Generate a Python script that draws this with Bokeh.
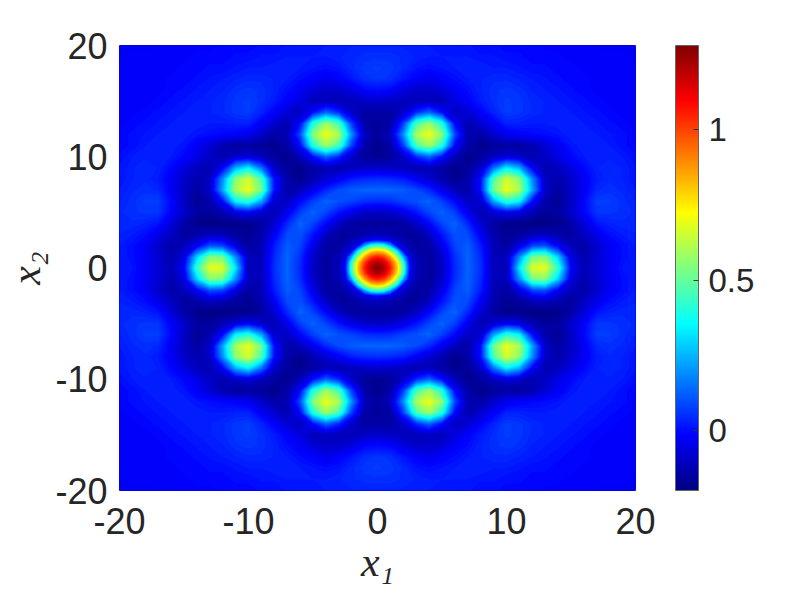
import numpy as np
from bokeh.embed import file_html
from bokeh.models import ColorBar, FixedTicker, LinearColorMapper
from bokeh.plotting import figure
from bokeh.resources import INLINE

# Field at x, y = 0..20, one row per y (hundredths).
# The picture is mirror symmetric, so one quadrant is kept.
QUADRANT = [
    [128, 108, 46, -11, -16, -10, 4, 13, 5, -11, -13, 32, 68, 69, 43, -2, -12, -8, -3, 1, 2],
    [108, 88, 24, -12, -16, -9, 5, 13, 4, -12, -11, 19, 52, 55, 29, -6, -13, -8, -3, 0, 2],
    [46, 24, -9, -15, -15, -5, 8, 12, 2, -12, -15, -6, 8, 10, -3, -11, -14, -9, -3, 0, 2],
    [-11, -12, -15, -15, -10, 1, 10, 9, -3, -13, -17, -15, -12, -11, -13, -16, -10, -5, 0, 2, 3],
    [-16, -16, -15, -10, -1, 8, 13, 4, -8, -15, -18, -18, -19, -19, -18, -14, -7, 1, 3, 4, 4],
    [-10, -9, -5, 1, 8, 13, 7, -4, -12, -8, -3, -6, -12, -16, -15, -9, -2, 6, 6, 5, 4],
    [4, 5, 8, 10, 13, 7, -1, -10, -9, 23, 42, 35, 0, -13, -17, -10, -1, 7, 7, 5, 3],
    [13, 13, 12, 9, 4, -4, -11, -14, 0, 52, 70, 60, 23, -10, -15, -10, -3, 4, 5, 4, 2],
    [5, 4, 2, -3, -8, -13, -18, -14, 0, 47, 66, 56, 19, -10, -13, -9, -3, 2, 4, 3, 1],
    [-9, -10, -11, -13, -12, -14, -18, -16, -9, 15, 34, 24, -2, -13, -11, -6, -1, 3, 4, 3, 1],
    [-17, -16, -9, 4, 13, 0, -11, -18, -15, -11, -7, -9, -13, -10, -5, -1, 2, 3, 3, 2, 0],
    [-18, -14, 7, 46, 58, 40, -1, -14, -18, -16, -15, -16, -13, -8, -3, 1, 3, 3, 2, 0, -1],
    [-16, -11, 19, 60, 70, 55, 9, -13, -14, -9, -4, -2, -1, 0, 1, 3, 3, 2, 1, 0, -1],
    [-16, -14, 7, 46, 58, 40, -1, -13, -8, -3, 3, 3, 2, 2, 3, 3, 2, 1, 0, -1, -2],
    [-14, -15, -9, 4, 13, 0, -11, -8, -2, 3, 7, 6, 4, 3, 3, 2, 1, 0, -1, -2, -2],
    [-9, -10, -11, -12, -11, -12, -6, -2, 2, 5, 7, 6, 4, 3, 2, 1, 0, -1, -2, -2, -2],
    [0, -1, -6, -9, -9, -7, -3, 0, 3, 5, 6, 5, 3, 2, 1, 0, -1, -2, -2, -2, -2],
    [6, 5, 1, -2, -4, -2, 0, 2, 3, 4, 4, 3, 2, 1, 0, -1, -1, -2, -2, -2, -2],
    [7, 6, 4, 1, 0, 1, 2, 3, 3, 2, 2, 1, 0, 0, -1, -1, -2, -2, -2, -2, -2],
    [5, 5, 4, 3, 2, 2, 2, 2, 1, 1, 0, 0, -1, -1, -1, -2, -2, -2, -2, -2, -3],
    [3, 3, 3, 2, 2, 1, 1, 1, 0, 0, -1, -1, -1, -2, -2, -2, -2, -3, -3, -3, -3],
]
# Finer reading of the central peak, x, y = 0, 0.5 .. 3.
CENTRE = [
    [128, 122, 106, 82, 46, -1, -11],
    [122, 116, 101, 78, 41, -3, -12],
    [106, 101, 86, 60, 24, -6, -12],
    [82, 78, 60, 35, -1, -10, -14],
    [46, 41, 24, -1, -9, -12, -15],
    [-1, -3, -6, -10, -12, -15, -16],
    [-11, -12, -12, -14, -15, -16, -15],
]
AXIS_TICKS = [-20, -10, 0, 10, 20]
BAR_TICKS = [0, 0.5, 1]
BAR_LABELS = {0: "0", 0.5: "0.5", 1: "1"}
VALUE_LOW = -0.2
VALUE_HIGH = 1.2801


def jet(n):
    out = []
    for i in range(n):
        f = (i + 0.5) / n * 4
        r = min(f - 1.5, 4.5 - f)
        g = min(f - 0.5, 3.5 - f)
        b = min(f + 0.5, 2.5 - f)
        c = [int(round(255 * max(0, min(1, k)))) for k in (r, g, b)]
        out.append("#%02x%02x%02x" % tuple(c))
    return out


def unfold(table):
    q = np.array(table, dtype=float) / 100
    n = q.shape[0] - 1
    idx = np.abs(np.arange(-n, n + 1))
    return q[np.ix_(idx, idx)]


Z = unfold(QUADRANT)
grid = np.arange(-20, 21, dtype=float)
Z_centre = unfold(CENTRE)
grid_centre = np.arange(-6, 7) * 0.5

N = 128
palette = jet(N)
levels = np.linspace(VALUE_LOW, VALUE_HIGH, N + 1)
mapper = LinearColorMapper(palette=jet(256), low=VALUE_LOW, high=VALUE_HIGH)

p = figure(
    width=785, height=587, frame_width=516, frame_height=445,
    x_range=(-20, 20), y_range=(-20, 20),
    output_backend="svg", toolbar_location=None,
    min_border_left=119, min_border_right=150, min_border_top=45, min_border_bottom=97,
    outline_line_color="#c4c4c4", outline_line_width=1,
    background_fill_color="#0000ff", border_fill_color="white",
)
p.grid.visible = False

# Each band runs up to the top value, painted in rising order, so no seam shows.
for xs, zs in ((grid, Z), (grid_centre, Z_centre)):
    for i, colour in enumerate(palette):
        if levels[i] < zs.max():
            p.contour(xs, xs, zs, [levels[i], VALUE_HIGH], fill_color=[colour], line_color=None)

labels = {t: str(t) for t in AXIS_TICKS}
for ax, text in ((p.xaxis[0], "x₁"), (p.yaxis[0], "x₂")):
    ax.ticker = FixedTicker(ticks=AXIS_TICKS)
    ax.major_label_overrides = labels
    ax.axis_line_color = None
    ax.major_tick_line_color = None
    ax.minor_tick_line_color = None
    ax.major_label_text_font = "Liberation Sans"
    ax.major_label_text_font_size = "36px"
    ax.major_label_text_color = "#262626"
    ax.axis_label = text
    ax.axis_label_text_font = "Liberation Serif"
    ax.axis_label_text_font_style = "italic"
    ax.axis_label_text_font_size = "42px"
    ax.axis_label_text_color = "#262626"
p.xaxis[0].major_label_standoff = 11
p.yaxis[0].major_label_standoff = 6
p.yaxis[0].major_label_orientation = "horizontal"
p.xaxis[0].axis_label_standoff = 2
p.yaxis[0].axis_label_standoff = 3

bar = ColorBar(
    color_mapper=mapper, ticker=FixedTicker(ticks=BAR_TICKS), major_label_overrides=BAR_LABELS,
    width=23, height=445, padding=0, location=(40, 0),
    major_label_text_font="Liberation Sans", major_label_text_font_size="33px",
    major_label_text_color="#262626", label_standoff=10,
    major_tick_line_color="#333333", major_tick_in=5, major_tick_out=0,
    minor_tick_line_color=None, bar_line_color="#666666", bar_line_width=1,
    background_fill_color=None, border_line_color=None,
)
p.add_layout(bar, "right")

open("out.html", "w").write(file_html(p, INLINE))
